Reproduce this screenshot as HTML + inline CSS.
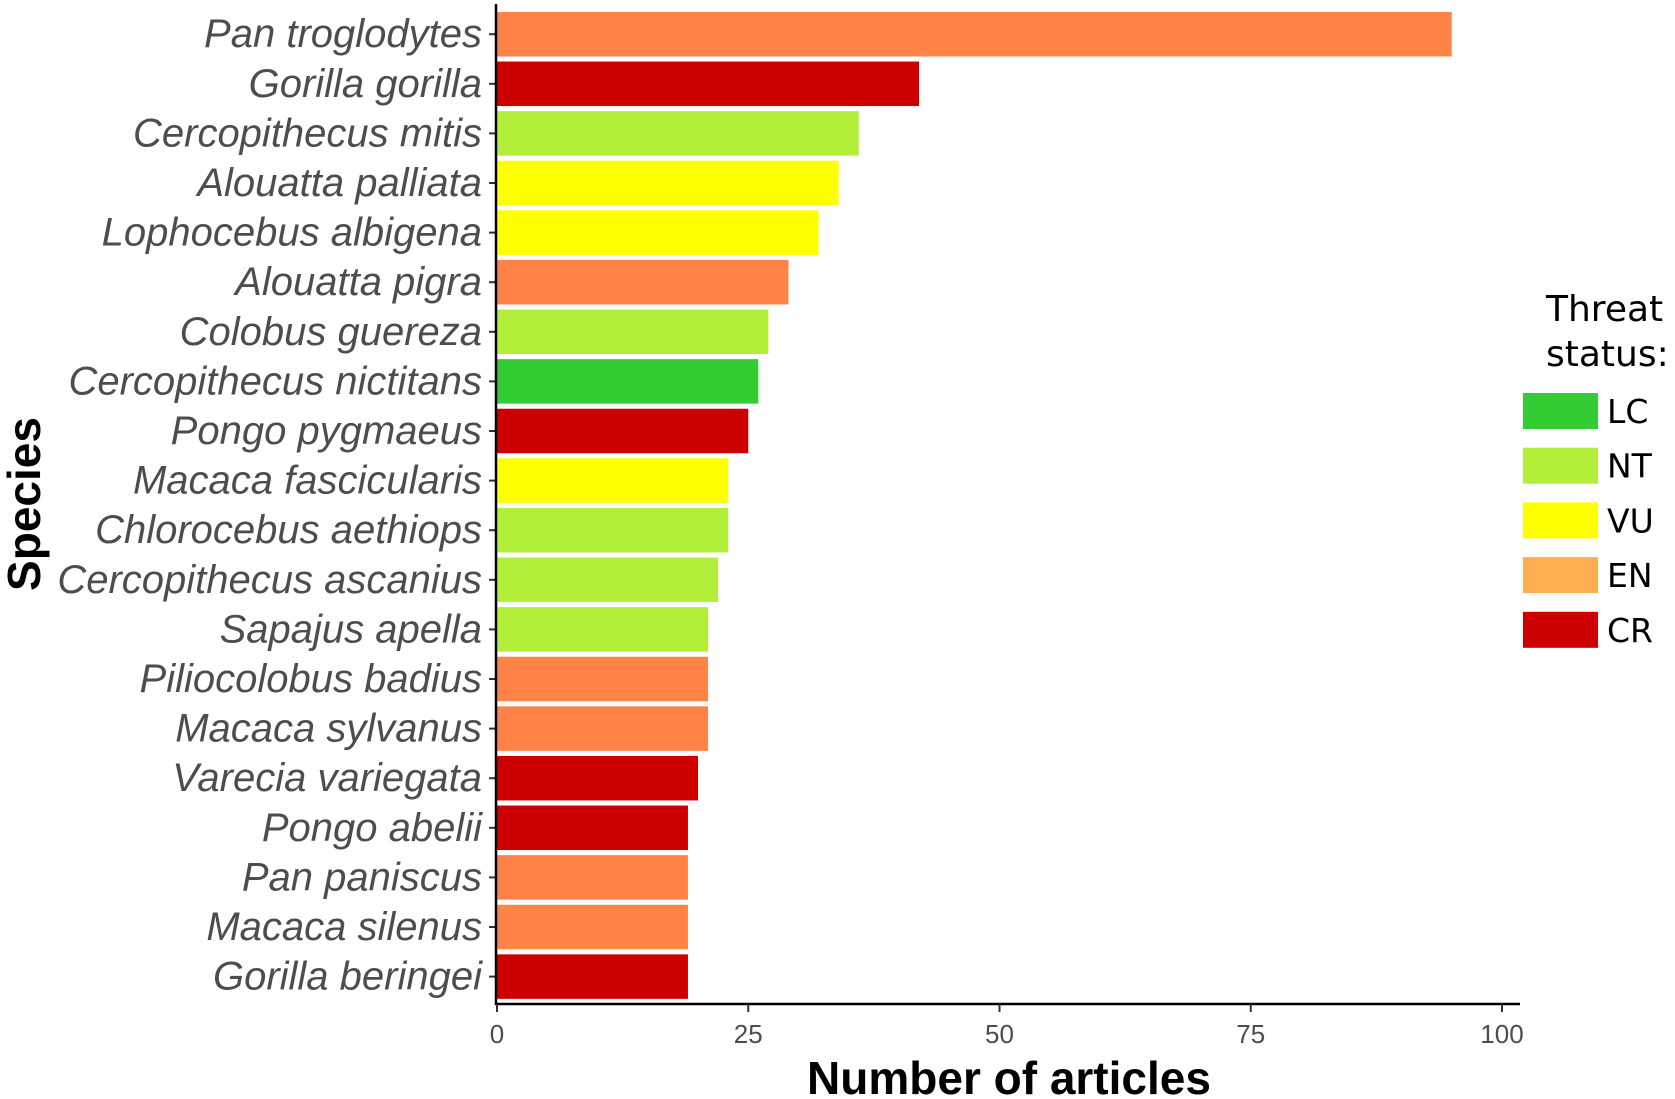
<!DOCTYPE html>
<html><head><meta charset="utf-8"><style>
body{margin:0;background:#fff;}
svg{display:block;}
</style></head><body>
<svg id="chart" width="1675" height="1099" xmlns="http://www.w3.org/2000/svg"></svg>
<script>
const species=["Pan troglodytes","Gorilla gorilla","Cercopithecus mitis","Alouatta palliata","Lophocebus albigena","Alouatta pigra","Colobus guereza","Cercopithecus nictitans","Pongo pygmaeus","Macaca fascicularis","Chlorocebus aethiops","Cercopithecus ascanius","Sapajus apella","Piliocolobus badius","Macaca sylvanus","Varecia variegata","Pongo abelii","Pan paniscus","Macaca silenus","Gorilla beringei"];
const articles=[95,42,36,34,32,29,27,26,25,23,23,22,21,21,21,20,19,19,19,19];
const status=["EN","CR","NT","VU","VU","EN","NT","LC","CR","VU","NT","NT","NT","EN","EN","CR","CR","EN","EN","CR"];
const xTicks=[0,25,50,75,100];
const legendKeys=["LC","NT","VU","EN","CR"];
const barColors={LC:"#33cc33",NT:"#b3ee3a",VU:"#ffff00",EN:"#ff8247",CR:"#cc0000"};
const keyColors={LC:"#33cc33",NT:"#b3ee3a",VU:"#ffff00",EN:"#ffad50",CR:"#cc0000"};

const svg=document.getElementById('chart');
const NS="http://www.w3.org/2000/svg";
function mk(t,a,txt){const e=document.createElementNS(NS,t);for(const k in a)e.setAttribute(k,a[k]);if(txt!==undefined)e.textContent=txt;svg.appendChild(e);return e;}
const x0=497,x100=1502;
const xs=v=>x0+(x100-x0)*v/100;
const rowTop=34.2,pitch=49.6,bh=44.5;
const ys=i=>rowTop+i*pitch;

species.forEach((s,i)=>{
  const b=mk('rect',{x:xs(0),y:ys(i)-bh/2,width:xs(articles[i])-xs(0),height:bh,fill:barColors[status[i]]});
  
  
  const t=mk('text',{x:482,y:ys(i)+13,'text-anchor':'end','font-family':'Liberation Sans, sans-serif','font-style':'italic','font-size':40,fill:'#4d4d4d'},s);
  
  
  const tk=mk('line',{x1:489,x2:496,y1:ys(i),y2:ys(i),stroke:'#333','stroke-width':2});
  
  
});
mk('line',{x1:496,x2:496,y1:4,y2:1005,stroke:'#000','stroke-width':2.5,});
mk('line',{x1:495,x2:1520,y1:1004,y2:1004,stroke:'#000','stroke-width':2.5,});
xTicks.forEach(v=>{
  const l=mk('line',{x1:xs(v),x2:xs(v),y1:1004,y2:1012,stroke:'#333','stroke-width':2});
  
  
  const t=mk('text',{x:xs(v),y:1043,'text-anchor':'middle','font-family':'Liberation Sans, sans-serif','font-size':26,fill:'#4d4d4d'},String(v));
  
  
});
mk('text',{x:1009,y:1094,'text-anchor':'middle','font-family':'Liberation Sans, sans-serif','font-weight':'bold','font-size':46,fill:'#000',},'Number of articles');
mk('text',{x:0,y:0,transform:'translate(40,504) rotate(-90)','text-anchor':'middle','font-family':'Liberation Sans, sans-serif','font-weight':'bold','font-size':46,fill:'#000',},'Species');
mk('text',{x:1546,y:321,'font-family':'DejaVu Sans, sans-serif','font-size':36,fill:'#000',},'Threat');
mk('text',{x:1546,y:366,'font-family':'DejaVu Sans, sans-serif','font-size':36,fill:'#000',},'status:');
legendKeys.forEach((k,i)=>{
  const y=393+i*54.7;
  const r=mk('rect',{x:1523,y:y,width:75,height:36,fill:keyColors[k]});
  
  
  const t=mk('text',{x:1607,y:y+30,'font-family':'DejaVu Sans, sans-serif','font-size':33,fill:'#000'},k);
  
  
});
</script>
</body></html>
